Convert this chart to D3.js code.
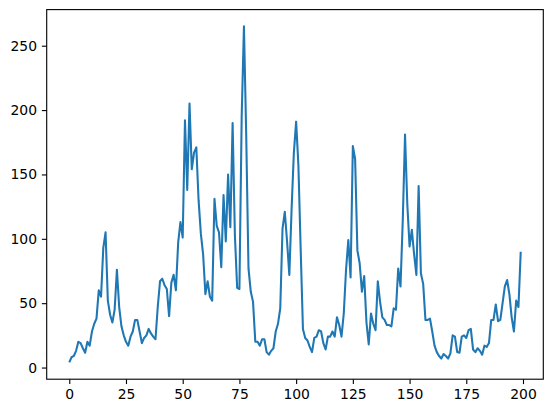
<!DOCTYPE html>
<html>
<head>
<meta charset="utf-8">
<script src="https://cdn.jsdelivr.net/npm/d3@7"></script>
<style>
  html, body { margin: 0; padding: 0; background: #fff; }
  svg { display: block; }
  text { font-family: "DejaVu Sans", sans-serif; }
</style>
</head>
<body>
<svg id="chart" width="552" height="413"></svg>
<script>
// Series values (index 0..199)
const values = [
  4, 8, 9, 13, 20, 19, 15, 11.5, 20, 17,
  28, 34, 38, 60, 55, 93, 105, 52, 41, 35,
  45, 76, 47, 32, 25, 20, 17, 24, 28, 37,
  37, 28, 19, 23, 25, 30, 26.5, 24, 22, 47,
  67, 69, 64, 61, 40, 66, 72, 60, 97, 113,
  101, 192, 138, 205, 154, 167, 171, 130, 104, 88,
  57, 67, 55, 52, 131, 110, 105, 78, 134, 98,
  150, 109, 190, 103, 62, 61, 195, 265, 180, 77,
  59, 51, 20, 20, 17, 22, 22, 12, 10, 13,
  15, 28, 34, 46, 108, 121, 98, 72, 123, 167,
  191, 157, 92, 30, 23, 21, 16, 12, 23, 24,
  29, 28, 19, 14, 24, 24, 28, 24, 39, 33,
  24, 42, 76, 99, 70, 172, 162, 91, 81, 59,
  71, 35, 18, 42, 34, 29, 67, 51, 39, 37,
  33, 33, 32, 46, 45, 77, 63, 114, 181, 127,
  94, 107, 88, 72, 141, 73, 65, 37, 37, 38,
  28, 17, 12, 9, 7, 10.5, 9, 7, 11, 25,
  24, 12, 11.5, 24, 25, 23, 29, 30, 14, 12,
  15, 13, 10, 17, 16, 19, 37, 37, 49, 36,
  37, 50, 63, 68, 57, 39, 28, 52, 47, 90
];
const indices = values.map((_, i) => i);
const xTickValues = [0, 25, 50, 75, 100, 125, 150, 175, 200];
const yTickValues = [0, 50, 100, 150, 200, 250];

const svg = d3.select("#chart");
const plot = { left: 46.7, right: 543.3, top: 9.6, bottom: 379.2 };

const xExt = d3.extent(indices);
const xPad = (xExt[1] - xExt[0]) * 0.05;
const x = d3.scaleLinear()
  .domain([xExt[0] - xPad, xExt[1] + xPad])
  .range([plot.left, plot.right]);

const yExt = d3.extent(values);
const yPad = (yExt[1] - yExt[0]) * 0.05;
const y = d3.scaleLinear()
  .domain([yExt[0] - yPad, yExt[1] + yPad])
  .range([plot.bottom, plot.top]);

const line = d3.line()
  .x((d, i) => x(indices[i]))
  .y(d => y(d));

const clipId = "plotclip";
svg.append("defs").append("clipPath").attr("id", clipId)
  .append("rect")
  .attr("x", plot.left).attr("y", plot.top)
  .attr("width", plot.right - plot.left)
  .attr("height", plot.bottom - plot.top);

svg.append("path")
  .datum(values)
  .attr("clip-path", `url(#${clipId})`)
  .attr("fill", "none")
  .attr("stroke", "#1f77b4")
  .attr("stroke-width", 2.08)
  .attr("stroke-linejoin", "round")
  .attr("stroke-linecap", "butt")
  .attr("d", line);

const tickLen = 4.86;
const tickPad = 4.86;
const fontSize = 13.9;

const xAxis = d3.axisBottom(x)
  .tickValues(xTickValues)
  .tickFormat(d3.format("d"))
  .tickSizeInner(tickLen)
  .tickSizeOuter(0)
  .tickPadding(tickPad);

const gx = svg.append("g")
  .attr("transform", `translate(0,${plot.bottom})`)
  .call(xAxis);
gx.select(".domain").remove();
gx.selectAll(".tick line").attr("stroke", "#000").attr("stroke-width", 1.11);
gx.selectAll(".tick text")
  .attr("fill", "#000")
  .style("font-family", "'DejaVu Sans', sans-serif")
  .style("font-size", fontSize + "px");

const yAxis = d3.axisLeft(y)
  .tickValues(yTickValues)
  .tickFormat(d3.format("d"))
  .tickSizeInner(tickLen)
  .tickSizeOuter(0)
  .tickPadding(tickPad);

const gy = svg.append("g")
  .attr("transform", `translate(${plot.left},0)`)
  .call(yAxis);
gy.select(".domain").remove();
gy.selectAll(".tick line").attr("stroke", "#000").attr("stroke-width", 1.11);
gy.selectAll(".tick text")
  .attr("fill", "#000")
  .style("font-family", "'DejaVu Sans', sans-serif")
  .style("font-size", fontSize + "px");

// Frame (spines)
svg.append("rect")
  .attr("x", plot.left).attr("y", plot.top)
  .attr("width", plot.right - plot.left)
  .attr("height", plot.bottom - plot.top)
  .attr("fill", "none")
  .attr("stroke", "#000")
  .attr("stroke-width", 1.11)
  .attr("stroke-linecap", "square");
</script>
</body>
</html>
